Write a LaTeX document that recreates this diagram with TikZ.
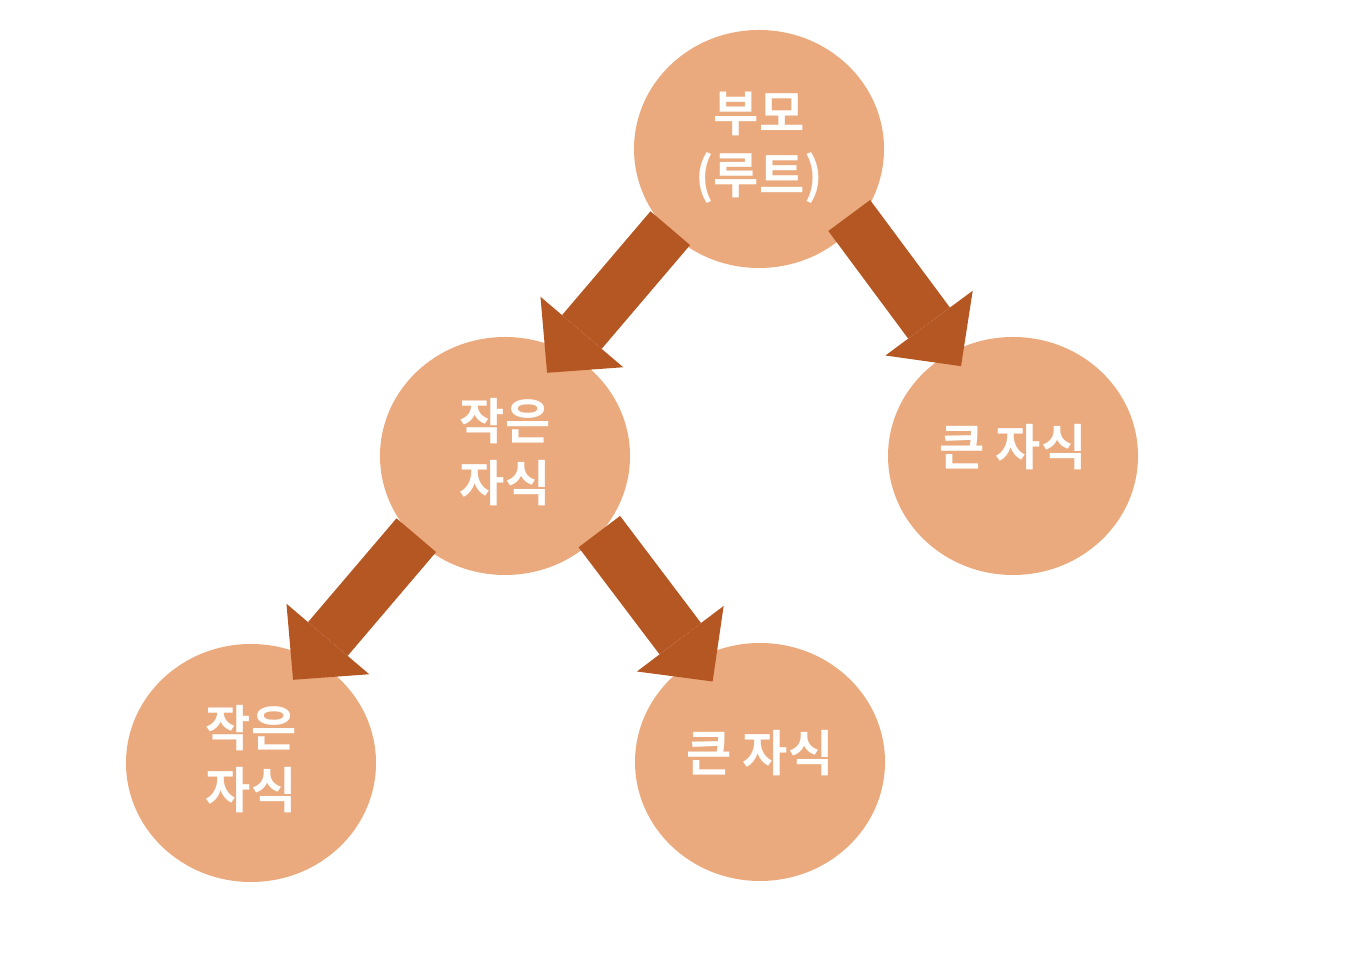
\documentclass[tikz,border=0pt]{standalone}
\usepackage{fontspec}
\newfontfamily\kofont{Noto Sans CJK KR Bold}
\usetikzlibrary{shapes.geometric,arrows.meta}

\definecolor{nodefill}{RGB}{234,170,125}
\definecolor{linkcolor}{RGB}{181,87,35}

\tikzset{
  member/.style={ellipse,fill=nodefill,minimum width=2.5cm,minimum height=2.38cm,
    inner sep=0pt,text=white,align=center,text depth=3.5pt,
    font=\kofont\fontsize{14}{17.4}\selectfont},
  oneline/.style={text depth=6.5pt},
  link/.style={draw=linkcolor,line width=0.52cm,
    -{Triangle[width=1.087cm,length=0.536cm,line width=0pt]}}
}

\begin{document}
\begin{tikzpicture}
  \useasboundingbox (0,0) rectangle (13.58,-9.54);
  % the tree
  \node[member] (root) at (7.59,-1.49) {부모\\(루트)};
  \node[member] (small) at (5.05,-4.56) {작은\\자식};
  \node[member,oneline] (big) at (10.13,-4.56) {큰 자식};
  \node[member] (smallsmall) at (2.51,-7.63) {작은\\자식};
  \node[member,oneline] (smallbig) at (7.60,-7.62) {큰 자식};
  % block arrows, parent to child
  \draw[link,shorten <=-0.04cm,shorten >=-0.285cm] (root.222) -- (small.60);
  \draw[link,shorten <=-0.117cm,shorten >=-0.175cm] (root.322) -- (big.121);
  \draw[link,shorten <=-0.04cm,shorten >=-0.285cm] (small.222) -- (smallsmall.60);
  \draw[link,shorten <=-0.024cm,shorten >=-0.28cm] (small.321) -- (smallbig.122);
\end{tikzpicture}
\end{document}
